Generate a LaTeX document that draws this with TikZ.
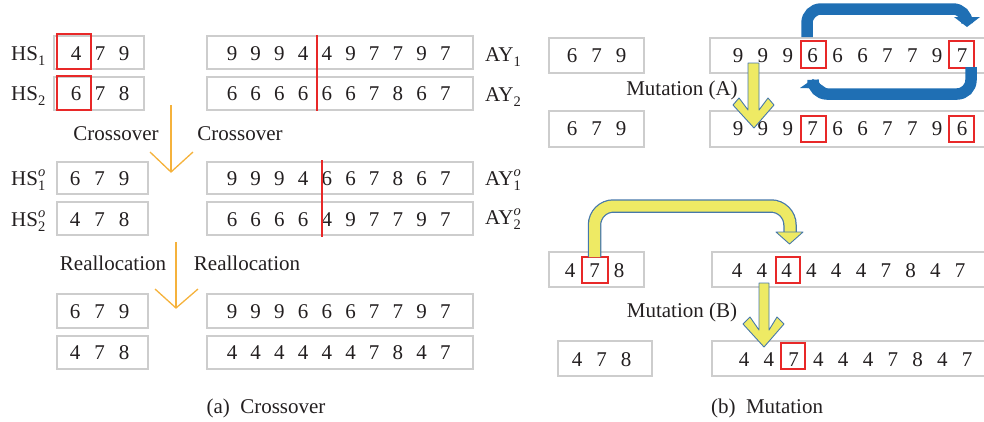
\documentclass[tikz,border=0pt]{standalone}
\usepackage{fontspec}
\setmainfont{Liberation Serif}
\definecolor{boxgray}{RGB}{205,205,205}
\definecolor{redc}{RGB}{232,40,40}
\definecolor{orng}{RGB}{245,178,60}
\definecolor{blu}{RGB}{31,111,180}
\definecolor{yel}{RGB}{238,234,100}
\definecolor{ybord}{RGB}{70,120,170}
\definecolor{txt}{RGB}{35,31,32}
\newcommand{\subfs}{\fontsize{14.5}{14.5}\selectfont}
\newcommand{\lblss}[3]{#1\makebox[0pt][l]{\raisebox{8.5pt}{\subfs\itshape #2}}\raisebox{-5pt}{\subfs #3}}
\newcommand{\digrow}[5]{\foreach \d [count=\i] in {#5} {\node[dig] (#1-\i) at ({#2+#3*(\i-1)},#4) {\d};}}
\begin{document}
\begin{tikzpicture}[x=1pt,y=-1pt,font=\fontsize{21}{25}\selectfont,text=txt,
  gbox/.style={draw=boxgray,line width=1.4pt},
  rbox/.style={draw=redc,line width=1.2pt},
  dig/.style={inner sep=0pt,anchor=base},
  lab/.style={inner sep=0pt,anchor=base west},
  txtlab/.style={inner sep=0pt,anchor=base},
  cutline/.style={draw=redc,line width=1.6pt},
  orarrow/.style={draw=orng,line width=1.3pt},
  bluearrow/.style={draw=blu,line width=11.5pt,rounded corners=14pt},
  ybase/.style={draw=ybord,line width=13.5pt,rounded corners=19pt},
  ytop/.style={draw=yel,line width=11pt,rounded corners=19pt},
  yhead/.style={fill=yel,draw=ybord,line width=0.9pt,line join=round}]
\clip (0,0) rectangle (984,421);
% ---------------- (a) Crossover ----------------
\draw[gbox] (54,36) rectangle (144,69);
\draw[gbox] (54,77) rectangle (144,110);
\draw[gbox] (207,36) rectangle (473,69);
\draw[gbox] (207,77) rectangle (473,110);
\draw[rbox] (57,34) rectangle (91,69);
\draw[rbox] (57,76) rectangle (91,110);
\digrow{h1}{76}{24}{60}{4,7,9}
\digrow{h2}{76}{24}{100}{6,7,8}
\digrow{a1}{232}{23.7}{60}{9,9,9,4,4,9,7,7,9,7}
\digrow{a2}{232}{23.7}{100}{6,6,6,6,6,6,7,8,6,7}
\draw[cutline] (317,35) -- (317,111);
\node[lab] (lhs1) at (11,60) {\lblss{HS}{}{1}};
\node[lab] (lhs2) at (11,100) {\lblss{HS}{}{2}};
\node[lab] (lay1) at (485,61) {\lblss{AY}{}{1}};
\node[lab] (lay2) at (485,101) {\lblss{AY}{}{2}};
\node[txtlab] (cross1) at (116,140) {Crossover};
\node[txtlab] (cross2) at (240,140) {Crossover};
\coordinate (o1s) at (171,105);
\coordinate (o1e) at (171,172);
\draw[orarrow] (o1s) -- (o1e);
\draw[orarrow] (150,152) -- (o1e) -- (193,152);
\draw[gbox] (57,162) rectangle (148,194);
\draw[gbox] (57,202) rectangle (148,235);
\draw[gbox] (207,162) rectangle (473,194);
\draw[gbox] (207,202) rectangle (473,235);
\digrow{h3}{75}{24.5}{185}{6,7,9}
\digrow{h4}{75}{24.5}{226}{4,7,8}
\digrow{a3}{232}{23.7}{185}{9,9,9,4,6,6,7,8,6,7}
\digrow{a4}{232}{23.7}{226}{6,6,6,6,4,9,7,7,9,7}
\draw[cutline] (322,160) -- (322,237);
\node[lab] (lhs3) at (11,185) {\lblss{HS}{o}{1}};
\node[lab] (lhs4) at (11,226) {\lblss{HS}{o}{2}};
\node[lab] (lay3) at (485,185) {\lblss{AY}{o}{1}};
\node[lab] (lay4) at (485,224) {\lblss{AY}{o}{2}};
\node[txtlab] (real1) at (113,270) {Reallocation};
\node[txtlab] (real2) at (247,270) {Reallocation};
\coordinate (o2s) at (176,242);
\coordinate (o2e) at (176,308);
\draw[orarrow] (o2s) -- (o2e);
\draw[orarrow] (155,289) -- (o2e) -- (198,289);
\draw[gbox] (57,294) rectangle (148,328);
\draw[gbox] (57,336) rectangle (148,369);
\draw[gbox] (207,294) rectangle (473,328);
\draw[gbox] (207,336) rectangle (473,369);
\digrow{h5}{75}{24.5}{318}{6,7,9}
\digrow{h6}{75}{24.5}{359}{4,7,8}
\digrow{a5}{232}{23.7}{318}{9,9,9,6,6,6,7,7,9,7}
\digrow{a6}{232}{23.7}{359}{4,4,4,4,4,4,7,8,4,7}
\node[txtlab] (capa) at (266,413) {(a)\enspace Crossover};
% ---------------- (b) Mutation ----------------
\draw[gbox] (549,38) rectangle (644,73);
\draw[gbox] (710,38) rectangle (995,73);
\draw[gbox] (549,111) rectangle (644,147);
\draw[gbox] (710,111) rectangle (995,147);
\draw[rbox] (801,41) rectangle (826,68);
\draw[rbox] (949,41) rectangle (974,68);
\draw[rbox] (801,116) rectangle (826,142);
\draw[rbox] (949,116) rectangle (974,142);
\digrow{m1}{572}{24.5}{62}{6,7,9}
\digrow{m2}{572}{24.5}{135}{6,7,9}
\digrow{b1}{738}{24.9}{62}{9,9,9,6,6,6,7,7,9,7}
\digrow{b2}{738}{24.9}{135}{9,9,9,7,6,6,7,7,9,6}
\node[txtlab] (mutA) at (682,95) {Mutation (A)};
\draw[gbox] (549,252) rectangle (644,287);
\draw[gbox] (712,252) rectangle (995,287);
\draw[gbox] (558,341) rectangle (652,376);
\draw[gbox] (712,341) rectangle (995,376);
\draw[rbox] (582,257) rectangle (608,283);
\draw[rbox] (776,257) rectangle (800,283);
\draw[rbox] (781,343) rectangle (805,369);
\digrow{m3}{570}{24.5}{277}{4,7,8}
\digrow{m4}{577}{24.5}{366}{4,7,8}
\digrow{b3}{737}{24.8}{277}{4,4,4,4,4,4,7,8,4,7}
\digrow{b4}{744}{24.8}{366}{4,4,7,4,4,4,7,8,4,7}
\node[txtlab] (mutB) at (682,317) {Mutation (B)};
\node[txtlab] (capb) at (767,413) {(b)\enspace Mutation};
% blue swap arrows
\draw[bluearrow] (807,37) -- (807,9) -- (967,9) -- (967,18);
\fill[blu] (954,17) -- (980,17) -- (967,27) -- cycle;
\draw[bluearrow] (971,67) -- (971,94) -- (813,94) -- (813,88);
\fill[blu] (800,88) -- (826,88) -- (813,79) -- cycle;
% yellow arrow A
\filldraw[yhead] (748,63) -- (759,63) -- (759,110) -- (768,98) -- (774,105) -- (754,128) -- (733,105) -- (739,98) -- (748,110) -- cycle;
% yellow arrow B
\filldraw[yhead] (759,283) -- (769,283) -- (769,330) -- (777,317) -- (784,324) -- (764,347) -- (743,324) -- (750,317) -- (759,330) -- cycle;
% big yellow arrow
\draw[ybase] (594.5,257) -- (594.5,206) -- (790,206) -- (790,232);
\draw[ytop] (594.5,257) -- (594.5,206) -- (790,206) -- (790,233);
\filldraw[yhead] (776,232) -- (803,232) -- (789.5,244) -- cycle;
\end{tikzpicture}
\end{document}
